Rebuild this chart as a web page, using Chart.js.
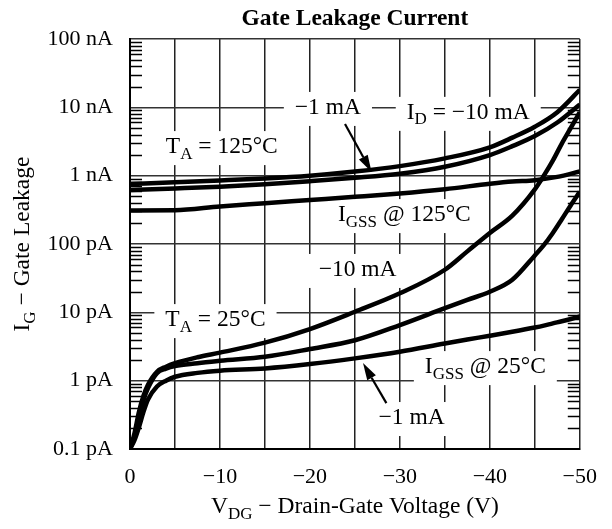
<!DOCTYPE html>
<html>
<head>
<meta charset="utf-8">
<script src="https://cdn.jsdelivr.net/npm/chart.js@4.4.0/dist/chart.umd.min.js"></script>
<style>
  html, body { margin: 0; padding: 0; background: #fff; }
  #wrap { width: 612px; height: 529px; }
</style>
</head>
<body>
<div id="wrap"><canvas id="leakChart" width="612" height="529"></canvas></div>
<script>
// Drain-gate voltage samples (V)
const vdg125 = [0, -5, -10, -15, -20, -25, -30, -35, -40, -42.5, -45, -47.5, -50];
const vdg25 = [0, -0.5, -1, -1.5, -2, -3, -4, -5, -7.5, -10, -15, -20, -25, -30, -35, -37.5, -40, -42.5, -45, -46, -47, -48, -49, -50];

// T_A = 125°C gate leakage (A)
const leak125_10mA = [7.55e-10, 8.0e-10, 8.5e-10, 9.1e-10, 1.0e-9, 1.15e-9, 1.38e-9, 1.79e-9, 2.6e-9, 3.6e-9, 5.2e-9, 8.5e-9, 1.8e-8];
const leak125_1mA = [6.16e-10, 6.5e-10, 6.9e-10, 7.5e-10, 8.3e-10, 9.3e-10, 1.07e-9, 1.35e-9, 2.0e-9, 2.7e-9, 3.8e-9, 6.0e-9, 1.1e-8];
const leak125_gss = [3.1e-10, 3.12e-10, 3.55e-10, 3.95e-10, 4.4e-10, 4.9e-10, 5.5e-10, 6.35e-10, 7.6e-10, 8.2e-10, 8.6e-10, 9.6e-10, 1.15e-9];

// T_A = 25°C gate leakage (A)
const leak25_10mA = [1e-13, 1.7e-13, 3.5e-13, 6e-13, 8.7e-13, 1.35e-12, 1.6e-12, 1.8e-12, 2.2e-12, 2.57e-12, 3.6e-12, 5.7e-12, 1.02e-11, 1.9e-11, 4.2e-11, 7.8e-11, 1.45e-10, 2.6e-10, 6.3e-10, 1.0e-9, 1.66e-9, 2.95e-9, 5.0e-9, 8.5e-9];
const leak25_1mA = [1e-13, 1.5e-13, 2.9e-13, 5.2e-13, 7.8e-13, 1.29e-12, 1.5e-12, 1.64e-12, 1.8e-12, 1.96e-12, 2.24e-12, 2.9e-12, 3.9e-12, 6.5e-12, 1.15e-11, 1.52e-11, 2.0e-11, 3.0e-11, 6.8e-11, 9.6e-11, 1.45e-10, 2.3e-10, 3.7e-10, 5.8e-10];
const leak25_gss = [1e-13, 1.35e-13, 2.1e-13, 3.5e-13, 5.3e-13, 8.2e-13, 1.0e-12, 1.14e-12, 1.3e-12, 1.4e-12, 1.51e-12, 1.75e-12, 2.12e-12, 2.65e-12, 3.5e-12, 4.0e-12, 4.55e-12, 5.2e-12, 6.0e-12, 6.4e-12, 6.9e-12, 7.4e-12, 8.0e-12, 8.7e-12];

// Axis ticks
const decadeValues = [1e-13, 1e-12, 1e-11, 1e-10, 1e-9, 1e-8, 1e-7];
const yTickLabels = ['0.1 pA', '1 pA', '10 pA', '100 pA', '1 nA', '10 nA', '100 nA'];
const xLabelStep = 10;

const FONT = "'Liberation Serif', 'Times New Roman', serif";
const TICK_SIZE = 22;
const NOTE_SIZE = 23.5;

// Annotation labels: [text, subscript?] pieces, placed in data coordinates
const notes = [
    { parts: [['T', 0], ['A', 1], [' = 125°C', 0]], v: -10.2, i: 2.62e-9 },
    { parts: [['\u22121 mA', 0]], v: -22.0, i: 9.8e-9 },
    { parts: [['I', 0], ['D', 1], [' = \u221210 mA', 0]], v: -37.6, i: 8.3e-9 },
    { parts: [['I', 0], ['GSS', 1], [' @ 125°C', 0]], v: -30.5, i: 2.65e-10 },
    { parts: [['\u221210 mA', 0]], v: -25.3, i: 4.17e-11 },
    { parts: [['T', 0], ['A', 1], [' = 25°C', 0]], v: -9.5, i: 7.7e-12 },
    { parts: [['I', 0], ['GSS', 1], [' @ 25°C', 0]], v: -39.5, i: 1.58e-12 },
    { parts: [['\u22121 mA', 0]], v: -31.3, i: 2.84e-13 }
];

// Arrows: from (v1, i1) to tip (v2, i2)
const arrows = [
    { v1: -23.9, i1: 5.7e-9, v2: -26.85, i2: 1.13e-9 },
    { v1: -28.5, i1: 4.7e-13, v2: -25.9, i2: 1.81e-12 }
];

function toPoints(xs, ys) {
    return xs.map((x, k) => ({ x: x, y: ys[k] }));
}

function fmtVolt(v) {
    return v === 0 ? '0' : '\u2212' + Math.abs(v);
}

function textWidth(ctx, parts, size) {
    const subSize = Math.round(size * 0.72);
    let w = 0;
    parts.forEach(p => {
        ctx.font = (p[1] ? subSize : size) + 'px ' + FONT;
        w += ctx.measureText(p[0]).width;
    });
    return w;
}

// draw text made of normal and subscript pieces, centred on (x, y)
function richText(ctx, parts, x, y, size) {
    const subSize = Math.round(size * 0.72);
    let cx = x - textWidth(ctx, parts, size) / 2;
    ctx.textAlign = 'left';
    ctx.textBaseline = 'middle';
    ctx.fillStyle = '#000';
    parts.forEach(p => {
        ctx.font = (p[1] ? subSize : size) + 'px ' + FONT;
        ctx.fillText(p[0], cx, p[1] ? y + size * 0.3 : y);
        cx += ctx.measureText(p[0]).width;
    });
}

const decorPlugin = {
    id: 'decor',
    beforeDatasetsDraw(chart) {
        const ctx = chart.ctx;
        const xs = chart.scales.x, ys = chart.scales.y;
        const area = chart.chartArea;

        // minor ticks on both vertical borders
        ctx.save();
        ctx.strokeStyle = '#000';
        ctx.lineWidth = 1.5;
        for (let d = -13; d < -7; d++) {
            for (let m = 2; m <= 9; m++) {
                const py = Math.round(ys.getPixelForValue(m * Math.pow(10, d))) + 0.5;
                ctx.beginPath();
                ctx.moveTo(area.left, py);
                ctx.lineTo(area.left + 12, py);
                ctx.moveTo(area.right, py);
                ctx.lineTo(area.right - 12, py);
                ctx.stroke();
            }
        }

        // white boxes + labels
        notes.forEach(n => {
            const px = xs.getPixelForValue(n.v);
            const py = ys.getPixelForValue(n.i);
            const w = textWidth(ctx, n.parts, NOTE_SIZE);
            ctx.fillStyle = '#fff';
            ctx.fillRect(px - w / 2 - 11, py - 16, w + 22, 34);
            richText(ctx, n.parts, px, py, NOTE_SIZE);
        });
        ctx.restore();
    },
    afterDatasetsDraw(chart) {
        const ctx = chart.ctx;
        const xs = chart.scales.x, ys = chart.scales.y;
        ctx.save();
        ctx.strokeStyle = '#000';
        ctx.fillStyle = '#000';
        arrows.forEach(a => {
            const x1 = xs.getPixelForValue(a.v1), y1 = ys.getPixelForValue(a.i1);
            const x2 = xs.getPixelForValue(a.v2), y2 = ys.getPixelForValue(a.i2);
            const ang = Math.atan2(y2 - y1, x2 - x1);
            const headLen = 17, headW = 5;
            const bx = x2 - headLen * Math.cos(ang), by = y2 - headLen * Math.sin(ang);
            ctx.lineWidth = 2.2;
            ctx.beginPath();
            ctx.moveTo(x1, y1);
            ctx.lineTo(bx, by);
            ctx.stroke();
            ctx.beginPath();
            ctx.moveTo(x2, y2);
            ctx.lineTo(bx + headW * Math.sin(ang), by - headW * Math.cos(ang));
            ctx.lineTo(bx - headW * Math.sin(ang), by + headW * Math.cos(ang));
            ctx.closePath();
            ctx.fill();
        });
        ctx.restore();
    },
    afterDraw(chart) {
        const ctx = chart.ctx;
        const area = chart.chartArea;
        const midX = (area.left + area.right) / 2;
        const midY = (area.top + area.bottom) / 2;
        ctx.save();
        // title
        ctx.font = 'bold 23.5px ' + FONT;
        ctx.textAlign = 'center';
        ctx.textBaseline = 'middle';
        ctx.fillStyle = '#000';
        ctx.fillText('Gate Leakage Current', midX, 19);
        // x axis title
        richText(ctx, [['V', 0], ['DG', 1], [' \u2212 Drain-Gate Voltage (V)', 0]], midX, 507, NOTE_SIZE);
        // y axis title
        ctx.translate(23, midY);
        ctx.rotate(-Math.PI / 2);
        richText(ctx, [['I', 0], ['G', 1], [' \u2212 Gate Leakage', 0]], 0, 0, NOTE_SIZE);
        ctx.restore();
    }
};

const lineStyle = {
    borderColor: '#000',
    borderWidth: 4.5,
    pointRadius: 0,
    fill: false,
    cubicInterpolationMode: 'monotone'
};

new Chart(document.getElementById('leakChart'), {
    type: 'line',
    data: {
        datasets: [
            Object.assign({ label: 'ID = -10 mA, 125°C', data: toPoints(vdg125, leak125_10mA) }, lineStyle),
            Object.assign({ label: 'ID = -1 mA, 125°C', data: toPoints(vdg125, leak125_1mA) }, lineStyle),
            Object.assign({ label: 'IGSS, 125°C', data: toPoints(vdg125, leak125_gss) }, lineStyle),
            Object.assign({ label: 'ID = -10 mA, 25°C', data: toPoints(vdg25, leak25_10mA) }, lineStyle),
            Object.assign({ label: 'ID = -1 mA, 25°C', data: toPoints(vdg25, leak25_1mA) }, lineStyle),
            Object.assign({ label: 'IGSS, 25°C', data: toPoints(vdg25, leak25_gss) }, lineStyle)
        ]
    },
    options: {
        responsive: false,
        animation: false,
        devicePixelRatio: 1,
        layout: { padding: { top: 39, right: 22, left: 0, bottom: 0 } },
        plugins: {
            legend: { display: false },
            tooltip: { enabled: false },
            title: { display: false }
        },
        scales: {
            x: {
                type: 'linear',
                min: -50,
                max: 0,
                reverse: true,
                afterFit(scale) { scale.height = 80; },
                ticks: {
                    stepSize: 5,
                    autoSkip: false,
                    maxRotation: 0,
                    padding: 15,
                    color: '#000',
                    font: { family: FONT, size: TICK_SIZE },
                    callback: function(value) {
                        return value % xLabelStep === 0 ? fmtVolt(value) : '';
                    }
                },
                grid: { color: '#222', lineWidth: 1.5, drawTicks: false },
                border: { color: '#000', width: 2 }
            },
            y: {
                type: 'logarithmic',
                min: 1e-13,
                max: 1e-7,
                afterFit(scale) { scale.width = 130; },
                afterBuildTicks(scale) {
                    scale.ticks = decadeValues.map(v => ({ value: v }));
                },
                ticks: {
                    autoSkip: false,
                    padding: 17,
                    color: '#000',
                    font: { family: FONT, size: TICK_SIZE },
                    callback: function(value, index) {
                        return yTickLabels[index];
                    }
                },
                grid: { color: '#333', lineWidth: 1.5, drawTicks: false },
                border: { color: '#000', width: 2 }
            }
        }
    },
    plugins: [decorPlugin]
});
</script>
</body>
</html>
